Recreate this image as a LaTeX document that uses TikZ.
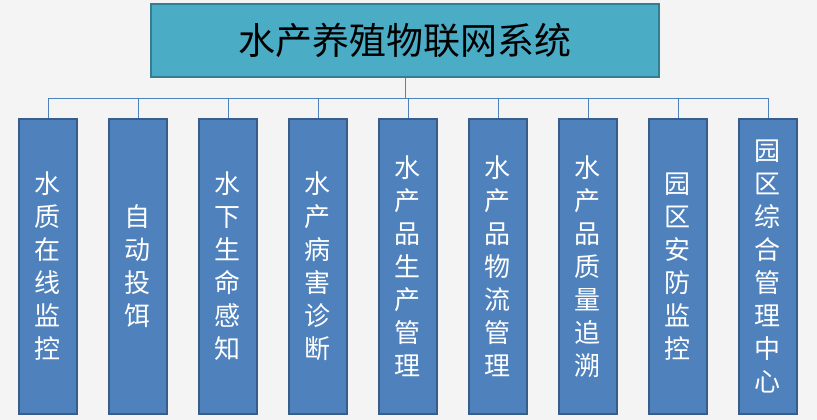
\documentclass[tikz,border=0pt]{standalone}
\usepackage{fontspec}
\newfontfamily\cjk{Noto Sans CJK SC}
\usetikzlibrary{matrix}
\definecolor{topfill}{HTML}{4BACC6}
\definecolor{topedge}{HTML}{357D91}
\definecolor{boxfill}{HTML}{4F81BD}
\definecolor{boxedge}{HTML}{385D8A}
\definecolor{bgcol}{HTML}{F4F4F4}

\begin{document}
\begin{tikzpicture}[x = 1pt, y = -1pt,
  sysbox/.style = {draw = topedge, line width = 2.5pt, fill = topfill, minimum width = 508pt, minimum height = 73pt, font = \cjk\fontsize{37}{37}\selectfont},
  subbox/.style = {draw = boxedge, line width = 2pt, fill = boxfill, text = white, minimum width = 58pt, minimum height = 295pt, inner sep = 0pt, anchor = center, align = center, font = \cjk\fontsize{26}{33}\selectfont},
  conn/.style = {draw = boxfill, line width = 0.8pt}]
\fill[bgcol] (0,0) rectangle (817,420);
\useasboundingbox (0,0) rectangle (817,420);
\node[sysbox](sys) at (405,40.5){水产养殖物联网系统};
\matrix (m) at (408,266.5) [matrix of nodes, column sep = 30pt]{
\node[subbox](b1){水\\质\\在\\线\\监\\控}; & \node[subbox](b2){自\\动\\投\\饵}; & \node[subbox](b3){水\\下\\生\\命\\感\\知}; & \node[subbox](b4){水\\产\\病\\害\\诊\\断}; & \node[subbox](b5){水\\产\\品\\生\\产\\管\\理}; & \node[subbox](b6){水\\产\\品\\物\\流\\管\\理}; & \node[subbox](b7){水\\产\\品\\质\\量\\追\\溯}; & \node[subbox](b8){园\\区\\安\\防\\监\\控}; & \node[subbox](b9){园\\区\\综\\合\\管\\理\\中\\心}; \\
};
\foreach \i in {1,...,9}
  \draw [conn] (sys.south) -- ++(0,20) -| (b\i.north);
\end{tikzpicture}
\end{document}
